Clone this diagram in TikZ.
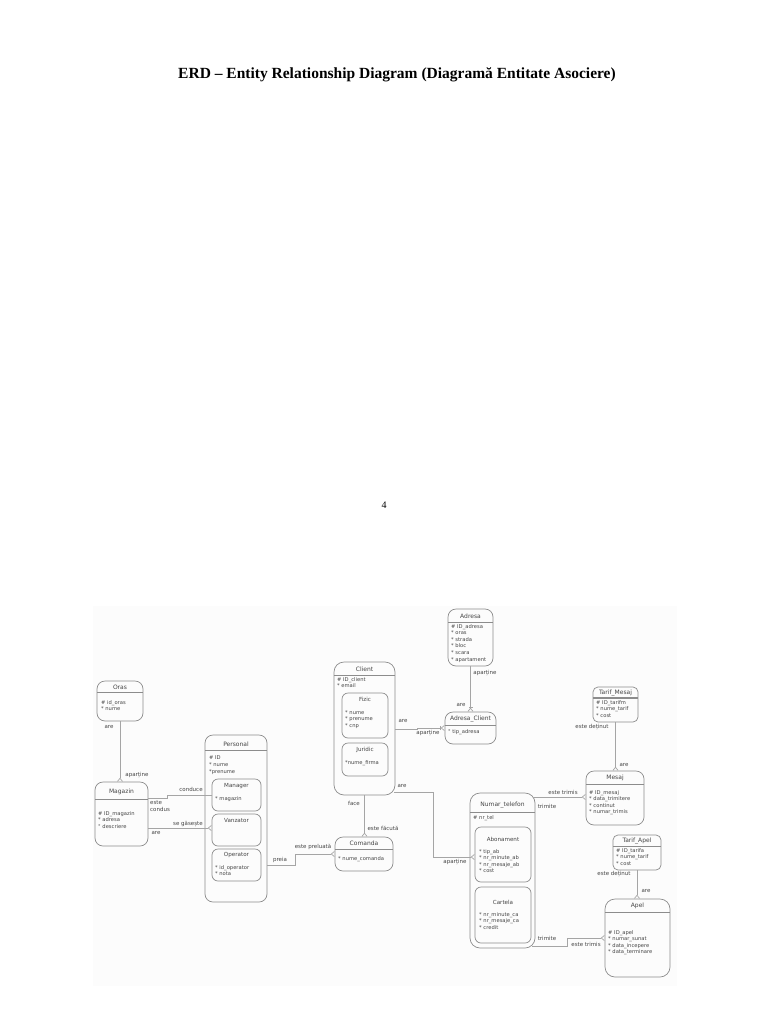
\documentclass[tikz,border=0pt]{standalone}
\usepackage{fontspec}
\setmainfont{Liberation Serif}
\newfontfamily\erdfont{DejaVu Sans}
\usetikzlibrary{arrows.meta,fit}
\definecolor{boxgray}{HTML}{8C8C8C}
\definecolor{txtgray}{HTML}{454545}
\definecolor{linegray}{HTML}{A5A5A5}
\definecolor{bggray}{HTML}{FCFCFC}

\begin{document}
\begin{tikzpicture}[x=1pt,y=-1pt,
  ent/.style={draw=boxgray,line width=0.7pt,rounded corners=8pt,inner sep=0pt},
  sub/.style={draw=boxgray,line width=0.7pt,rounded corners=6pt,inner sep=0pt},
  hline/.style={draw=boxgray,line width=0.7pt},
  etitle/.style={font=\erdfont\fontsize{6}{7}\selectfont,text=txtgray,inner sep=0pt},
  stitle/.style={font=\erdfont\fontsize{5.6}{7}\selectfont,text=txtgray,inner sep=0pt},
  attr/.style={font=\erdfont\fontsize{5.2}{6.6}\selectfont,text=txtgray,inner sep=0pt,align=left,anchor=north west},
  rlab/.style={font=\erdfont\fontsize{5.5}{6.3}\selectfont,text=txtgray,inner sep=0pt},
  rel/.style={draw=linegray,line width=0.7pt},
  crow/.style={-{Straight Barb[reversed,length=3pt,width=5pt]}},
  crowbar/.style={-{Bar[width=4pt] Straight Barb[reversed,length=3pt,width=5pt]}}
]
\useasboundingbox (0,0) rectangle (768,1024);
\node[font=\bfseries\fontsize{15.5}{18}\selectfont] (title) at (397,75) {ERD – Entity Relationship Diagram (Diagramă Entitate Asociere)};
\node[font=\fontsize{10}{12}\selectfont] (pagenr) at (384,505) {4};
\fill[bggray] (93,606) rectangle (677,986);

% Oras
\node[ent,fit={(97,681) (143,721)}] (oras) {};
\draw[hline] (97,692) -- (143,692);
\node[etitle] (orasT) at (120,687) {Oras};
\node[attr] (orasA) at (101,700) {\# id\_oras\\{}* nume};
% Magazin
\node[ent,fit={(95,782) (148,846)}] (magazin) {};
\draw[hline] (95,799) -- (148,799);
\node[etitle] (magazinT) at (121.5,792) {Magazin};
\node[attr] (magazinA) at (98,811) {\# ID\_magazin\\{}* adresa\\{}° descriere};
% Personal
\node[ent,fit={(205,735) (267,902)}] (personal) {};
\draw[hline] (205,750) -- (267,750);
\node[etitle] (personalT) at (236,744) {Personal};
\node[attr] (personalA) at (209,756) {\# ID\\{}* nume\\{}*prenume};
\node[sub,fit={(212,779) (261,811)}] (manager) {};
\node[stitle] (managerT) at (236.5,786) {Manager};
\node[attr] (managerA) at (215,796) {* magazin};
\node[sub,fit={(212,814) (261,846)}] (vanzator) {};
\node[stitle] (vanzatorT) at (236.5,820) {Vanzator};
\node[sub,fit={(212,849) (261,881)}] (operator) {};
\node[stitle] (operatorT) at (236.5,855) {Operator};
\node[attr] (operatorA) at (215,865) {* id\_operator\\{}* nota};
% Client
\node[ent,rounded corners=10pt,fit={(334,662) (395,795)}] (client) {};
\draw[hline] (334,675) -- (395,675);
\node[etitle] (clientT) at (364.5,669) {Client};
\node[attr] (clientA) at (337,677) {\# ID\_client\\{}* email};
\node[sub,fit={(342,693) (388,738)}] (fizic) {};
\node[stitle] (fizicT) at (365,699) {Fizic};
\node[attr] (fizicA) at (345,710) {* nume\\{}* prenume\\{}* cnp};
\node[sub,fit={(342,743) (388,776)}] (juridic) {};
\node[stitle] (juridicT) at (365,750) {Juridic};
\node[attr] (juridicA) at (345,760) {*nume\_firma};
% Adresa
\node[ent,fit={(448,609) (493,666)}] (adresa) {};
\draw[hline] (448,622) -- (493,622);
\node[etitle] (adresaT) at (470.5,616) {Adresa};
\node[attr] (adresaA) at (451,624) {\# ID\_adresa\\{}* oras\\{}* strada\\{}* bloc\\{}* scara\\{}* apartament};
% Adresa_Client
\node[ent,fit={(445,712) (496,744)}] (adresaclient) {};
\draw[hline] (445,725) -- (496,725);
\node[etitle] (adresaclientT) at (470.5,719) {Adresa\_Client};
\node[attr] (adresaclientA) at (448,729) {° tip\_adresa};
% Comanda
\node[ent,fit={(335,837) (393,871)}] (comanda) {};
\draw[hline] (335,849) -- (393,849);
\node[etitle] (comandaT) at (364,843) {Comanda};
\node[attr] (comandaA) at (338,856) {* nume\_comanda};
% Numar_telefon
\node[ent,rounded corners=10pt,fit={(470,793) (535,948)}] (numartelefon) {};
\draw[hline] (470,812) -- (535,812);
\node[etitle] (numartelefonT) at (502.5,805) {Numar\_telefon};
\node[attr] (numartelefonA) at (473,815) {\# nr\_tel};
\node[sub,fit={(475,827) (531,882)}] (abonament) {};
\node[stitle] (abonamentT) at (503,839) {Abonament};
\node[attr] (abonamentA) at (479,849) {* tip\_ab\\{}* nr\_minute\_ab\\{}* nr\_mesaje\_ab\\{}* cost};
\node[sub,fit={(475,887) (531,943)}] (cartela) {};
\node[stitle] (cartelaT) at (503,902) {Cartela};
\node[attr] (cartelaA) at (479,912) {* nr\_minute\_ca\\{}* nr\_mesaje\_ca\\{}* credit};
% Tarif_Mesaj
\node[ent,rounded corners=5pt,fit={(593,687) (638,722)}] (tarifmesaj) {};
\draw[hline,line width=1.4pt] (593,698) -- (638,698);
\node[etitle] (tarifmesajT) at (615.5,692.5) {Tarif\_Mesaj};
\node[attr] (tarifmesajA) at (596,700) {\# ID\_tarifm\\{}* nume\_tarif\\{}* cost};
% Mesaj
\node[ent,fit={(586,771) (644,825)}] (mesaj) {};
\draw[hline] (586,784) -- (644,784);
\node[etitle] (mesajT) at (615,778) {Mesaj};
\node[attr] (mesajA) at (589,790) {\# ID\_mesaj\\{}* data\_trimitere\\{}* continut\\{}* numar\_trimis};
% Tarif_Apel
\node[ent,rounded corners=5pt,fit={(613,835) (661,870)}] (tarifapel) {};
\draw[hline] (613,846) -- (661,846);
\node[etitle] (tarifapelT) at (637,840.5) {Tarif\_Apel};
\node[attr] (tarifapelA) at (616,848) {\# ID\_tarifa\\{}* nume\_tarif\\{}* cost};
% Apel
\node[ent,rounded corners=10pt,fit={(605,899) (670,977)}] (apel) {};
\draw[hline] (605,912) -- (670,912);
\node[etitle] (apelT) at (637.5,906) {Apel};
\node[attr] (apelA) at (608,930) {\# ID\_apel\\{}* numar\_sunat\\{}* data\_incepere\\{}* data\_terminare};

% relatii
\draw[rel,crow] (oras.south) -- (oras.south |- magazin.north);
\node[rlab] (l1) at (109,727) {are};
\node[rlab] (l2) at (137,775) {aparține};
\draw[rel] (magazin.east |- 0,798) -- (167,798) |- (manager.west);
\node[rlab] (l3) at (191,789) {conduce};
\node[rlab,align=left,anchor=west] (l4) at (150,806) {este\\condus};
\draw[rel,crow] (magazin.east |- 0,828) -- (vanzator.west |- 0,828);
\node[rlab] (l5) at (188,824) {se găsește};
\node[rlab] (l6) at (156,833) {are};
\draw[rel,crow] (personal.east |- operator.east) -- (295,865) |- (comanda.west);
\node[rlab] (l7) at (280,860) {preia};
\node[rlab] (l8) at (313,847) {este preluată};
\draw[rel,crow] (client.south) -- (client.south |- comanda.north);
\node[rlab] (l9) at (354,803) {face};
\node[rlab] (l10) at (383,828) {este făcută};
\draw[rel,crowbar] (client.east |- 0,729) -- (417,729) |- (adresaclient.west);
\node[rlab] (l11) at (403,721) {are};
\node[rlab] (l12) at (428,733) {aparține};
\draw[rel,crowbar] (adresa.south) -- (adresaclient.north);
\node[rlab] (l13) at (485,673) {aparține};
\node[rlab] (l14) at (461,705) {are};
\draw[rel,crow] ([xshift=-1pt]client.east |- 0,792) -| (433,857) -- (abonament.west |- 0,857);
\node[rlab] (l15) at (402,786) {are};
\node[rlab] (l16) at (455,862) {aparține};
\draw[rel,crow] ([xshift=-2pt]numartelefon.east |- 0,797) -- (mesaj.west |- 0,797);
\node[rlab] (l17) at (563,792) {este trimis};
\node[rlab] (l18) at (547,806) {trimite};
\draw[rel,crow] (tarifmesaj.south) -- (tarifmesaj.south |- mesaj.north);
\node[rlab] (l19) at (592,727) {este deținut};
\node[rlab] (l20) at (624,765) {are};
\draw[rel,crow] (tarifapel.south) -- (tarifapel.south |- apel.north);
\node[rlab] (l21) at (614,874) {este deținut};
\node[rlab] (l22) at (646,891) {are};
\draw[rel,crow] ([xshift=-3pt]numartelefon.east |- 0,946) -- (567,946) |- (apel.west);
\node[rlab] (l23) at (547,938) {trimite};
\node[rlab] (l24) at (586,944) {este trimis};
\end{tikzpicture}
\end{document}
